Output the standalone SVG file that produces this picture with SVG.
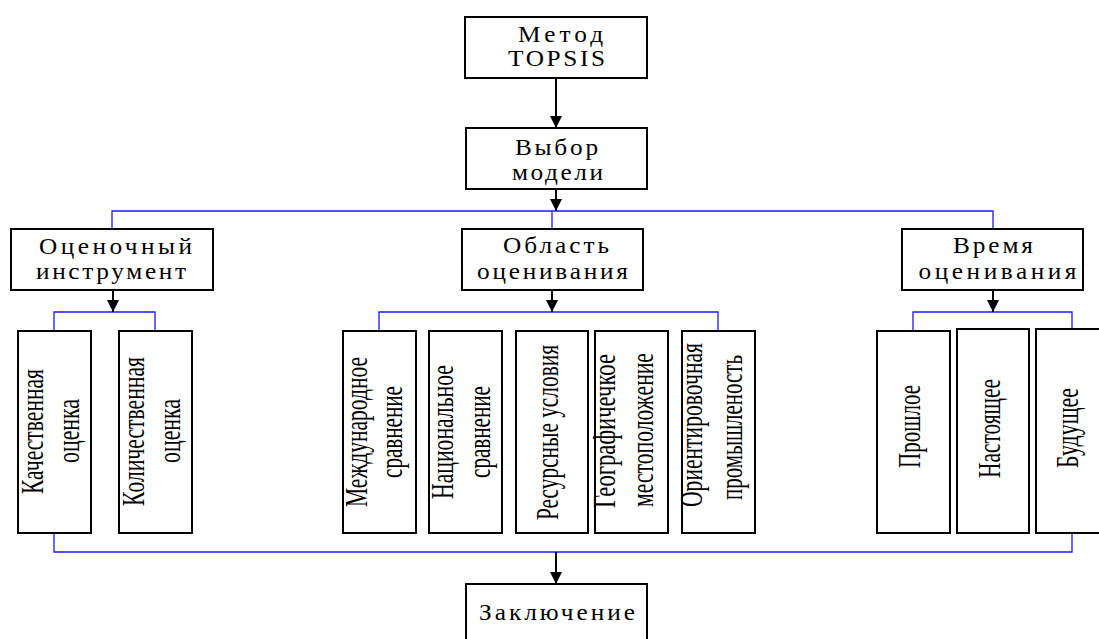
<svg xmlns="http://www.w3.org/2000/svg" width="1099" height="639" viewBox="0 0 1099 639">
<style>
.box{fill:#fff;stroke:#000;stroke-width:2}
.ln{fill:none;stroke:#1a1aff;stroke-width:1.3}
.ar{fill:none;stroke:#000;stroke-width:2}
text{font-family:'Liberation Serif','Times New Roman',serif;fill:#000;text-anchor:middle}
.t{font-size:23px}
.v{font-size:31px}
</style>
<defs>
<marker id="ah" markerWidth="12" markerHeight="12" viewBox="0 0 12 12" refX="12" refY="6" orient="auto" markerUnits="userSpaceOnUse">
<path d="M0,0 L12,6 L0,12 Z" fill="#000"/>
</marker>
</defs>
<g id="connectors">
<path class="ln" d="M112,229 V211 H993 V229 M552,211 V229"/>
<path class="ln" d="M54,331 V312 H155 V331"/>
<path class="ln" d="M379,331 V312 H718 V331"/>
<path class="ln" d="M913,331 V312 H1072 V329"/>
<path class="ln" d="M54,533 V552 H1072 V533"/>
<line class="ar" x1="556" y1="78" x2="556" y2="128" marker-end="url(#ah)"/>
<line class="ar" x1="556" y1="189" x2="556" y2="211" marker-end="url(#ah)"/>
<line class="ar" x1="113" y1="290" x2="113" y2="312" marker-end="url(#ah)"/>
<line class="ar" x1="552" y1="290" x2="552" y2="312" marker-end="url(#ah)"/>
<line class="ar" x1="993" y1="290" x2="993" y2="312" marker-end="url(#ah)"/>
<line class="ar" x1="556" y1="552" x2="556" y2="584" marker-end="url(#ah)"/>
</g>
<g id="n-topsis">
<rect class="box" x="465" y="17" width="182" height="61"/>
<text class="t" font-family="Liberation Serif, serif" transform="translate(560.5,42) scale(1.1,1)" textLength="77.3" lengthAdjust="spacing">Метод</text>
<text class="t" font-family="Liberation Serif, serif" transform="translate(556.5,66) scale(1.1,1)" textLength="88.2" lengthAdjust="spacing">TOPSIS</text>
</g>
<g id="n-model">
<rect class="box" x="466" y="128" width="181" height="61"/>
<text class="t" font-family="Liberation Serif, serif" transform="translate(556.5,155) scale(1.1,1)" textLength="75.5" lengthAdjust="spacing">Выбор</text>
<text class="t" font-family="Liberation Serif, serif" transform="translate(557.5,180) scale(1.1,1)" textLength="82.7" lengthAdjust="spacing">модели</text>
</g>
<g id="n-tool">
<rect class="box" x="11" y="229" width="202" height="61"/>
<text class="t" font-family="Liberation Serif, serif" transform="translate(115.5,254) scale(1.1,1)" textLength="139" lengthAdjust="spacing">Оценочный</text>
<text class="t" font-family="Liberation Serif, serif" transform="translate(111,279) scale(1.1,1)" textLength="136.4" lengthAdjust="spacing">инструмент</text>
</g>
<g id="n-area">
<rect class="box" x="462" y="229" width="181" height="61"/>
<text class="t" font-family="Liberation Serif, serif" transform="translate(556,253) scale(1.1,1)" textLength="96.4" lengthAdjust="spacing">Область</text>
<text class="t" font-family="Liberation Serif, serif" transform="translate(552.5,279) scale(1.1,1)" textLength="137.3" lengthAdjust="spacing">оценивания</text>
</g>
<g id="n-time">
<rect class="box" x="902" y="229" width="181" height="61"/>
<text class="t" font-family="Liberation Serif, serif" transform="translate(993,253) scale(1.1,1)" textLength="72.7" lengthAdjust="spacing">Время</text>
<text class="t" font-family="Liberation Serif, serif" transform="translate(997.5,279) scale(1.1,1)" textLength="143.6" lengthAdjust="spacing">оценивания</text>
</g>
<g id="n-qual">
<rect class="box" x="18" y="331" width="73" height="202"/>
<text class="v" font-family="Liberation Serif, serif" transform="translate(43,431.5) rotate(-90)" textLength="125" lengthAdjust="spacingAndGlyphs">Качественная</text>
<text class="v" font-family="Liberation Serif, serif" transform="translate(79,431) rotate(-90)" textLength="64" lengthAdjust="spacingAndGlyphs">оценка</text>
</g>
<g id="n-quant">
<rect class="box" x="119" y="331" width="73" height="202"/>
<text class="v" font-family="Liberation Serif, serif" transform="translate(144,431.5) rotate(-90)" textLength="149" lengthAdjust="spacingAndGlyphs">Количественная</text>
<text class="v" font-family="Liberation Serif, serif" transform="translate(180,431) rotate(-90)" textLength="64" lengthAdjust="spacingAndGlyphs">оценка</text>
</g>
<g id="n-intl">
<rect class="box" x="343" y="331" width="73" height="202"/>
<text class="v" font-family="Liberation Serif, serif" transform="translate(367,432) rotate(-90)" textLength="150" lengthAdjust="spacingAndGlyphs">Международное</text>
<text class="v" font-family="Liberation Serif, serif" transform="translate(402,432) rotate(-90)" textLength="92" lengthAdjust="spacingAndGlyphs">сравнение</text>
</g>
<g id="n-nat">
<rect class="box" x="429" y="331" width="73" height="202"/>
<text class="v" font-family="Liberation Serif, serif" transform="translate(453,432) rotate(-90)" textLength="134" lengthAdjust="spacingAndGlyphs">Национальное</text>
<text class="v" font-family="Liberation Serif, serif" transform="translate(490,432) rotate(-90)" textLength="92" lengthAdjust="spacingAndGlyphs">сравнение</text>
</g>
<g id="n-res">
<rect class="box" x="516" y="331" width="72" height="202"/>
<text class="v" font-family="Liberation Serif, serif" transform="translate(558,432.5) rotate(-90)" textLength="175" lengthAdjust="spacingAndGlyphs">Ресурсные условия</text>
</g>
<g id="n-geo">
<rect class="box" x="595" y="331" width="73" height="202"/>
<text class="v" font-family="Liberation Serif, serif" transform="translate(615,431) rotate(-90)" textLength="154" lengthAdjust="spacingAndGlyphs">Географичечкое</text>
<text class="v" font-family="Liberation Serif, serif" transform="translate(653,430) rotate(-90)" textLength="154" lengthAdjust="spacingAndGlyphs">местоположение</text>
</g>
<g id="n-ind">
<rect class="box" x="682" y="331" width="73" height="202"/>
<text class="v" font-family="Liberation Serif, serif" transform="translate(702,425) rotate(-90)" textLength="164" lengthAdjust="spacingAndGlyphs">Ориентировочная</text>
<text class="v" font-family="Liberation Serif, serif" transform="translate(742,427.5) rotate(-90)" textLength="145" lengthAdjust="spacingAndGlyphs">промышленость</text>
</g>
<g id="n-past">
<rect class="box" x="877" y="331" width="73" height="202"/>
<text class="v" font-family="Liberation Serif, serif" transform="translate(920,426.5) rotate(-90)" textLength="83" lengthAdjust="spacingAndGlyphs">Прошлое</text>
</g>
<g id="n-present">
<rect class="box" x="957" y="329" width="72" height="204"/>
<text class="v" font-family="Liberation Serif, serif" transform="translate(1000,428.5) rotate(-90)" textLength="99" lengthAdjust="spacingAndGlyphs">Настоящее</text>
</g>
<g id="n-future">
<rect class="box" x="1036" y="329" width="72" height="204"/>
<text class="v" font-family="Liberation Serif, serif" transform="translate(1078,428) rotate(-90)" textLength="80" lengthAdjust="spacingAndGlyphs">Будущее</text>
</g>
<g id="n-concl">
<rect class="box" x="466" y="584" width="181" height="70"/>
<text class="t" font-family="Liberation Serif, serif" transform="translate(557,620) scale(1.1,1)" textLength="141.8" lengthAdjust="spacing">Заключение</text>
</g>
</svg>
